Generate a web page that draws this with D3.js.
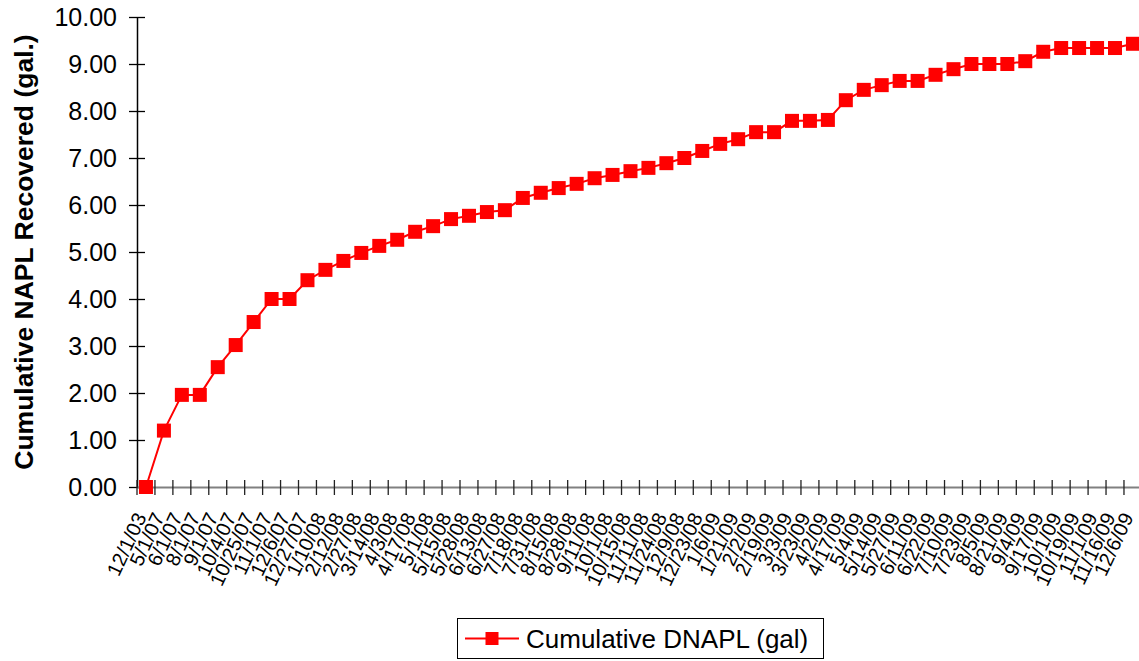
<!DOCTYPE html>
<html>
<head>
<meta charset="utf-8">
<script src="https://cdn.jsdelivr.net/npm/d3@7"></script>
<style>
  html, body { margin: 0; padding: 0; background: #fff; }
  svg { display: block; font-family: "Liberation Sans", Arial, sans-serif; }
</style>
</head>
<body>
<svg id="chart" width="1139" height="661"></svg>
<script>
const dates = [
  "12/1/03","5/1/07","6/1/07","8/1/07","9/1/07","10/4/07","10/25/07","11/1/07","12/6/07","12/27/07",
  "1/10/08","2/12/08","2/27/08","3/14/08","4/3/08","4/17/08","5/1/08","5/15/08","5/28/08","6/13/08",
  "6/27/08","7/18/08","7/31/08","8/15/08","8/28/08","9/11/08","10/1/08","10/15/08","11/11/08","11/24/08",
  "12/9/08","12/23/08","1/6/09","1/21/09","2/2/09","2/19/09","3/3/09","3/23/09","4/2/09","4/17/09",
  "5/4/09","5/14/09","5/27/09","6/11/09","6/22/09","7/10/09","7/23/09","8/5/09","8/21/09","9/4/09",
  "9/17/09","10/1/09","10/19/09","11/1/09","11/16/09","12/6/09"
];
const dnapl = [
  0.00, 1.20, 1.96, 1.96, 2.55, 3.02, 3.51, 4.00, 4.00, 4.40,
  4.62, 4.81, 4.98, 5.13, 5.26, 5.43, 5.55, 5.70, 5.77, 5.85,
  5.89, 6.15, 6.26, 6.36, 6.45, 6.57, 6.64, 6.72, 6.79, 6.89,
  7.00, 7.15, 7.30, 7.40, 7.55, 7.55, 7.79, 7.79, 7.81, 8.23,
  8.45, 8.55, 8.64, 8.64, 8.77, 8.89, 9.00, 9.00, 9.00, 9.06,
  9.26, 9.34, 9.34, 9.34, 9.34, 9.43
];
const yTicks = [0,1,2,3,4,5,6,7,8,9,10];
const seriesName = "Cumulative DNAPL (gal)";
const yTitle = "Cumulative NAPL Recovered (gal.)";

const svg = d3.select("#chart");
const x0 = 137, y0 = 487, y1 = 17;
const step = 17.945;
const x = d3.scaleBand().domain(dates).range([x0, x0 + step * dates.length]).padding(0);
const y = d3.scaleLinear().domain([0, 10]).range([y0, y1]);
const cx = d => x(d) + x.bandwidth() / 2;

// Y axis
const yAxis = svg.append("g").attr("transform", `translate(${x0},0)`)
  .call(d3.axisLeft(y).tickValues(yTicks).tickFormat(d3.format(".2f")).tickSizeOuter(0).tickSizeInner(8).tickPadding(12));
yAxis.select(".domain").attr("stroke", "#000").attr("stroke-width", 1.5);
yAxis.selectAll(".tick line").attr("x1", -8).attr("x2", 8).attr("stroke", "#000").attr("stroke-width", 1.3);
yAxis.selectAll(".tick text").attr("font-size", 25).attr("fill", "#000")
  .attr("font-family", "Liberation Sans, Arial, sans-serif");

// X axis
const xAxis = svg.append("g").attr("transform", `translate(0,${y0})`)
  .call(d3.axisBottom(x).tickSize(0).tickSizeOuter(0).tickFormat(""));
xAxis.select(".domain").attr("stroke", "#808080").attr("stroke-width", 2);
// ticks at category boundaries
const bounds = dates.map(d => x(d)).concat([x.range()[1]]);
xAxis.selectAll("line.bt").data(bounds).join("line").attr("class", "bt")
  .attr("x1", d => d).attr("x2", d => d).attr("y1", -7).attr("y2", 8)
  .attr("stroke", "#222").attr("stroke-width", 1.3);
xAxis.selectAll("text.lbl").data(dates).join("text").attr("class", "lbl")
  .attr("transform", d => `translate(${cx(d) + 1},${30}) rotate(-65)`)
  .attr("text-anchor", "end")
  .attr("font-size", 20)
  .attr("fill", "#000")
  .text(d => d);

// Y title
svg.append("text")
  .attr("transform", `translate(33,252) rotate(-90)`)
  .attr("text-anchor", "middle")
  .attr("font-size", 26.5).attr("font-weight", "bold")
  .text(yTitle);

// Series
const line = d3.line().x((d, i) => cx(dates[i])).y(d => y(d));
svg.append("path").datum(dnapl).attr("d", line)
  .attr("fill", "none").attr("stroke", "#FF0000").attr("stroke-width", 2);
const ms = 14;
svg.selectAll("rect.mk").data(dnapl).join("rect").attr("class", "mk")
  .attr("x", (d, i) => cx(dates[i]) - ms / 2)
  .attr("y", d => y(d) - ms / 2)
  .attr("width", ms).attr("height", ms)
  .attr("fill", "#FF0000");

// Legend
const lg = svg.append("g");
lg.append("rect").attr("x", 457.5).attr("y", 618.5).attr("width", 366).attr("height", 40)
  .attr("fill", "#fff").attr("stroke", "#000").attr("stroke-width", 1);
lg.append("line").attr("x1", 465).attr("x2", 519).attr("y1", 638.5).attr("y2", 638.5)
  .attr("stroke", "#FF0000").attr("stroke-width", 2);
lg.append("rect").attr("x", 485.5).attr("y", 632).attr("width", 13).attr("height", 13).attr("fill", "#FF0000");
lg.append("text").attr("x", 526).attr("y", 647.5).attr("font-size", 26).attr("fill", "#000").text(seriesName);
</script>
</body>
</html>
